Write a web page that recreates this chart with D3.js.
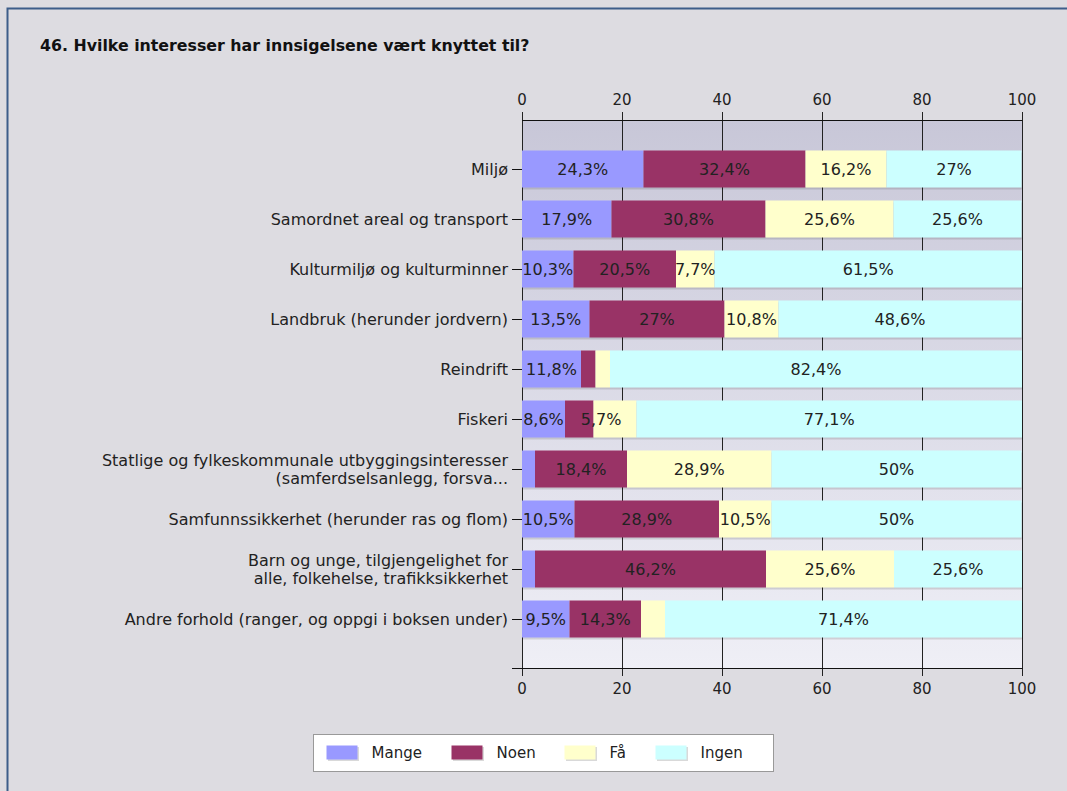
<!DOCTYPE html>
<html>
<head>
<meta charset="utf-8">
<script src="https://cdn.jsdelivr.net/npm/d3@7"></script>
<style>
  body { margin: 0; background: #dddce1; }
  svg { display: block; font-family: "DejaVu Sans", Verdana, sans-serif; }
</style>
</head>
<body>
<div id="chart"></div>
<script>
// data
var categories = [
  "Miljø",
  "Samordnet areal og transport",
  "Kulturmiljø og kulturminner",
  "Landbruk (herunder jordvern)",
  "Reindrift",
  "Fiskeri",
  "Statlige og fylkeskommunale utbyggingsinteresser\n(samferdselsanlegg, forsva...",
  "Samfunnssikkerhet (herunder ras og flom)",
  "Barn og unge, tilgjengelighet for\nalle, folkehelse, trafikksikkerhet",
  "Andre forhold (ranger, og oppgi i boksen under)"
];
var seriesNames = ["Mange", "Noen", "Få", "Ingen"];
var mange = [24.3, 17.9, 10.3, 13.5, 11.8, 8.6, 2.6, 10.5, 2.6, 9.5];
var noen  = [32.4, 30.8, 20.5, 27, 2.9, 5.7, 18.4, 28.9, 46.2, 14.3];
var faa   = [16.2, 25.6, 7.7, 10.8, 2.9, 8.6, 28.9, 10.5, 25.6, 4.8];
var ingen = [27, 25.6, 61.5, 48.6, 82.4, 77.1, 50, 50, 25.6, 71.4];
var xTicks = [0, 20, 40, 60, 80, 100];
var colors = ["#9999ff", "#993366", "#ffffcc", "#ccffff"];

var W = 1067, H = 791;
var plotLeft = 522, plotRight = 1022, plotTop = 120, plotBottom = 668;

var svg = d3.select("#chart").append("svg")
    .attr("width", W)
    .attr("height", H);

// frame
svg.append("rect").attr("width", W).attr("height", H).attr("fill", "#dddce1");
svg.append("path")
    .attr("d", "M7.5," + H + "V8.5H" + W)
    .attr("fill", "none")
    .attr("stroke", "#3d5d8a")
    .attr("stroke-width", 2);

svg.append("text")
    .attr("x", 40).attr("y", 51)
    .attr("font-size", 15.8)
    .attr("font-weight", "bold")
    .attr("fill", "#111")
    .text("46. Hvilke interesser har innsigelsene vært knyttet til?");

var x = d3.scaleLinear().domain([0, 100]).range([plotLeft, plotRight]);
var y = d3.scaleBand().domain(categories)
    .range([144, 644])
    .paddingInner(0.26)
    .paddingOuter(0.13);

// plot background gradient
var defs = svg.append("defs");
var grad = defs.append("linearGradient")
    .attr("id", "plotbg")
    .attr("x1", 0).attr("y1", 0).attr("x2", 0).attr("y2", 1);
grad.append("stop").attr("offset", "0%").attr("stop-color", "#c8c7d8");
grad.append("stop").attr("offset", "100%").attr("stop-color", "#efeff6");

svg.append("rect")
    .attr("x", plotLeft).attr("y", plotTop)
    .attr("width", plotRight - plotLeft).attr("height", plotBottom - plotTop)
    .attr("fill", "url(#plotbg)");

// gridlines
svg.append("g").selectAll("line")
    .data(xTicks)
    .join("line")
    .attr("x1", d => x(d) + 0.5).attr("x2", d => x(d) + 0.5)
    .attr("y1", plotTop - 8).attr("y2", plotBottom + 8)
    .attr("stroke", "#222")
    .attr("stroke-width", 1);

// stacked data
var rows = categories.map((c, i) => ({ cat: c, Mange: mange[i], Noen: noen[i], "Få": faa[i], Ingen: ingen[i] }));
var stack = d3.stack().keys(seriesNames)(rows);

var fmt = d3.formatLocale({ decimal: ",", thousands: " ", grouping: [3], currency: ["", ""] }).format(".1~f");

var layers = svg.append("g").selectAll("g")
    .data(stack)
    .join("g");

// shadows
layers.selectAll("rect.shadow")
    .data(d => d)
    .join("rect")
    .attr("class", "shadow")
    .attr("x", d => x(d[0]) + 1)
    .attr("y", d => y(d.data.cat) + 2)
    .attr("width", d => x(d[1]) - x(d[0]))
    .attr("height", y.bandwidth())
    .attr("fill", "#000")
    .attr("opacity", 0.12);

layers.selectAll("rect.bar")
    .data(d => d)
    .join("rect")
    .attr("class", "bar")
    .attr("x", d => x(d[0]))
    .attr("y", d => y(d.data.cat))
    .attr("width", d => x(d[1]) - x(d[0]))
    .attr("height", y.bandwidth())
    .attr("fill", (d, i, n) => colors[seriesNames.indexOf(d3.select(n[i].parentNode).datum().key)]);

// value labels: skip tiny segments; a label that runs into the previous one
// gets pushed right, unless it would then leave its own segment
var labelG = svg.append("g");
categories.forEach(function(c, ci) {
  var lastRight = -Infinity;
  stack.forEach(function(layer) {
    var d = layer[ci];
    var v = d[1] - d[0];
    if (v < 5) return;
    var cx = (x(d[0]) + x(d[1])) / 2;
    var t = labelG.append("text")
        .attr("y", y(c) + y.bandwidth() / 2)
        .attr("dy", "0.36em")
        .attr("text-anchor", "middle")
        .attr("font-size", 16)
        .attr("fill", "#222")
        .text(fmt(v) + "%");
    var w = t.node().getComputedTextLength();
    if (cx - w / 2 < lastRight) {
      var shifted = lastRight + 17 + w / 2;
      if (shifted - w / 2 > x(d[1])) { t.remove(); return; }
      cx = shifted;
    }
    t.attr("x", cx);
    lastRight = cx + w / 2;
  });
});

// axes lines
svg.append("line")
    .attr("x1", plotLeft).attr("x2", plotRight + 0.5)
    .attr("y1", plotTop + 0.5).attr("y2", plotTop + 0.5)
    .attr("stroke", "#111");
svg.append("line")
    .attr("x1", plotLeft - 10).attr("x2", plotRight + 0.5)
    .attr("y1", plotBottom + 0.5).attr("y2", plotBottom + 0.5)
    .attr("stroke", "#111");

// x tick labels top and bottom
[plotTop - 15, plotBottom + 26].forEach(function(yy) {
  svg.append("g").selectAll("text")
      .data(xTicks)
      .join("text")
      .attr("x", d => x(d))
      .attr("y", yy)
      .attr("text-anchor", "middle")
      .attr("font-size", 15)
      .attr("fill", "#222")
      .text(d => d);
});

// category ticks and labels
var cat = svg.append("g").selectAll("g")
    .data(categories)
    .join("g")
    .attr("transform", d => "translate(0," + (y(d) + y.bandwidth() / 2) + ")");
cat.append("line")
    .attr("x1", plotLeft - 10).attr("x2", plotLeft)
    .attr("y1", 0.5).attr("y2", 0.5)
    .attr("stroke", "#111");
cat.append("text")
    .attr("text-anchor", "end")
    .attr("font-size", 16)
    .attr("fill", "#222")
    .each(function(d) {
      var lines = d.split("\n");
      var t = d3.select(this);
      lines.forEach(function(l, i) {
        t.append("tspan")
            .attr("x", plotLeft - 14)
            .attr("y", (i - (lines.length - 1) / 2) * 18)
            .attr("dy", "0.36em")
            .text(l);
      });
    });

// legend
var legend = svg.append("g").attr("transform", "translate(313.5,734.5)");
legend.append("rect")
    .attr("width", 460).attr("height", 37)
    .attr("fill", "#fff")
    .attr("stroke", "#999");
var legX = [13, 138, 251, 342];
var item = legend.selectAll("g")
    .data(seriesNames)
    .join("g")
    .attr("transform", (d, i) => "translate(" + legX[i] + ",11)");
item.append("rect")
    .attr("x", 1.5).attr("y", 1.5)
    .attr("width", 31).attr("height", 14)
    .attr("fill", "#000").attr("opacity", 0.15);
item.append("rect")
    .attr("width", 31).attr("height", 14)
    .attr("fill", (d, i) => colors[i]);
item.append("text")
    .attr("x", 45).attr("y", 7)
    .attr("dy", "0.36em")
    .attr("font-size", 15)
    .attr("fill", "#222")
    .text(d => d);
</script>
</body>
</html>
